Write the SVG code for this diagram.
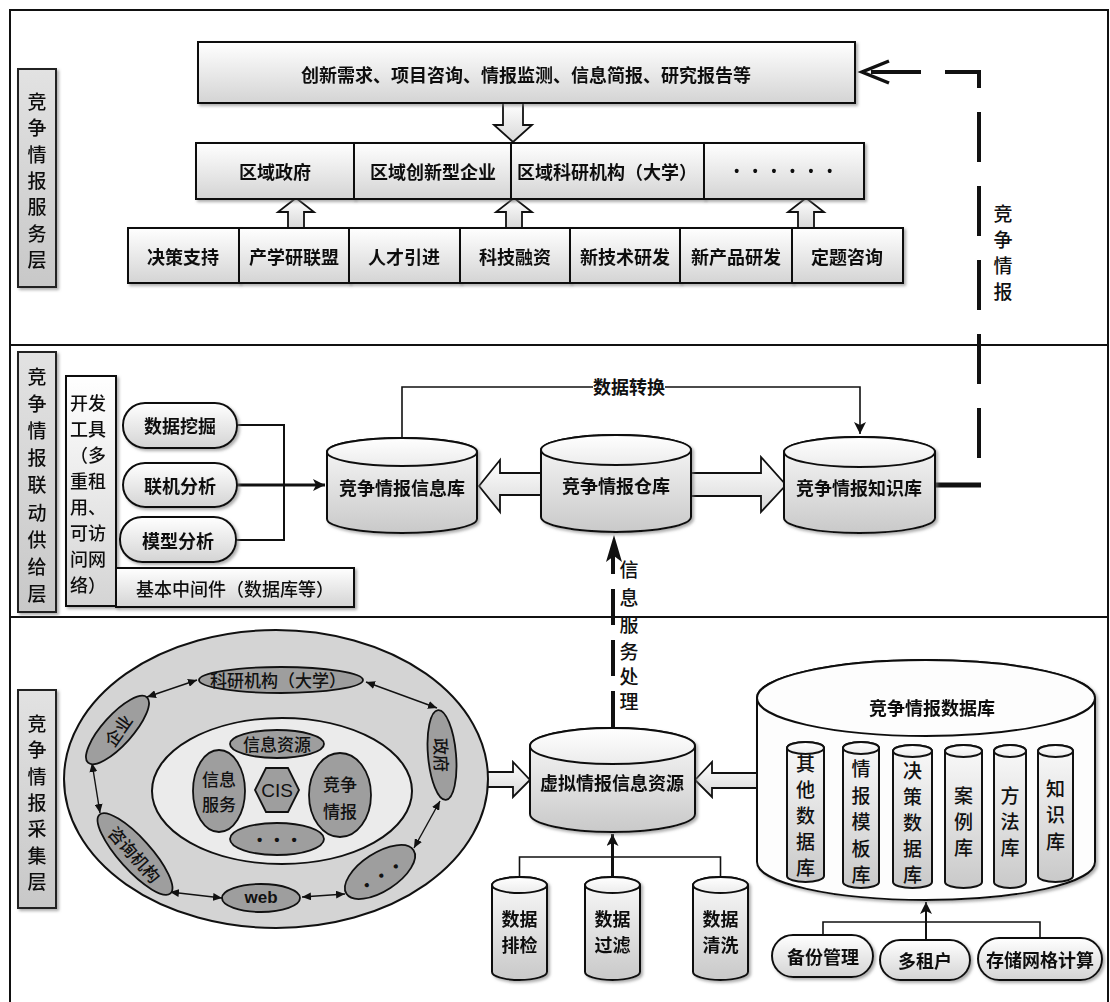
<svg xmlns="http://www.w3.org/2000/svg" width="1110" height="1002" viewBox="0 0 1110 1002">
<style>
.t{font-family:"Noto Sans CJK SC","Noto Sans",sans-serif;font-size:18px;font-weight:700;text-anchor:middle;dominant-baseline:central;fill:#111}
.tv{font-family:"Noto Sans CJK SC","Noto Sans",sans-serif;font-size:19px;font-weight:500;text-anchor:middle;dominant-baseline:central;fill:#111}
.ts{font-family:"Noto Sans CJK SC","Noto Sans",sans-serif;font-size:18px;font-weight:500;text-anchor:start;dominant-baseline:central;fill:#111}
.tr{font-family:"Noto Sans CJK SC","Noto Sans",sans-serif;font-size:17px;font-weight:500;text-anchor:middle;dominant-baseline:central;fill:#111}
.dots{font-family:"Liberation Sans",Arial,sans-serif;font-weight:700;text-anchor:middle;dominant-baseline:central;fill:#111}
.box{fill:url(#gBox);stroke:#111;stroke-width:2}
.lab{fill:url(#gLab);stroke:#222;stroke-width:2}
.cylb{fill:url(#gCyl);stroke:#111;stroke-width:2}
.cylt{fill:url(#gTop);stroke:#111;stroke-width:2}
.cylw{fill:#fdfdfd;stroke:#111;stroke-width:2}
.hol{fill:url(#gArr);stroke:#111;stroke-width:1.8}
.ln{fill:none;stroke:#111;stroke-width:1.6}
.ring{fill:#d4d4d4;stroke:#111;stroke-width:2}
.inner{fill:#ebebeb;stroke:#111;stroke-width:2}
.node{fill:#9e9e9e;stroke:#111;stroke-width:1.8}
.frame{fill:none;stroke:#111;stroke-width:2}
</style>
<defs>
<linearGradient id="gBox" x1="0" y1="0" x2="0" y2="1"><stop offset="0" stop-color="#ffffff"/><stop offset="1" stop-color="#d4d4d4"/></linearGradient>
<linearGradient id="gLab" x1="0" y1="0" x2="0" y2="1"><stop offset="0" stop-color="#e2e2e2"/><stop offset="1" stop-color="#c8c8c8"/></linearGradient>
<linearGradient id="gCyl" x1="0" y1="0" x2="0" y2="1"><stop offset="0" stop-color="#fafafa"/><stop offset="1" stop-color="#c9c9c9"/></linearGradient>
<linearGradient id="gTop" x1="0" y1="0" x2="0" y2="1"><stop offset="0" stop-color="#ffffff"/><stop offset="1" stop-color="#ececec"/></linearGradient>
<linearGradient id="gArr" x1="0" y1="0" x2="0" y2="1"><stop offset="0" stop-color="#ffffff"/><stop offset="1" stop-color="#d8d8d8"/></linearGradient>
<filter id="shadow" x="-10%" y="-10%" width="130%" height="140%"><feDropShadow dx="2" dy="2" stdDeviation="1.5" flood-color="#777" flood-opacity="0.6"/></filter>
<marker id="ah" markerUnits="userSpaceOnUse" markerWidth="14" markerHeight="12" refX="12" refY="6" orient="auto"><path d="M0,0 L12,6 L0,12 L3,6 z" fill="#111"/></marker>
<marker id="ahs" markerUnits="userSpaceOnUse" markerWidth="10" markerHeight="8" refX="9" refY="4" orient="auto-start-reverse"><path d="M0,0 L9,4 L0,8 z" fill="#111"/></marker>
</defs>
<rect x="0" y="0" width="1110" height="1002" fill="#ffffff"/>

<!-- frame and layers -->
<g id="frame">
<rect class="frame" x="10" y="10" width="1098" height="1004"/>
<line class="frame" x1="10" y1="345" x2="1108" y2="345"/>
<line class="frame" x1="10" y1="617" x2="1108" y2="617"/>
</g>

<!-- layer labels -->
<g id="label-service" filter="url(#shadow)">
<rect class="lab" x="18" y="69" width="38" height="218"/>
<text class="tv" font-size="20"><tspan x="37" y="100">竞</tspan><tspan x="37" y="126">争</tspan><tspan x="37" y="153">情</tspan><tspan x="37" y="179">报</tspan><tspan x="37" y="205">服</tspan><tspan x="37" y="232">务</tspan><tspan x="37" y="258">层</tspan></text>
</g>
<g id="label-supply" filter="url(#shadow)">
<rect class="lab" x="18" y="352" width="38" height="260"/>
<text class="tv" font-size="20"><tspan x="37" y="375">竞</tspan><tspan x="37" y="402">争</tspan><tspan x="37" y="429">情</tspan><tspan x="37" y="456">报</tspan><tspan x="37" y="483">联</tspan><tspan x="37" y="511">动</tspan><tspan x="37" y="538">供</tspan><tspan x="37" y="565">给</tspan><tspan x="37" y="592">层</tspan></text>
</g>
<g id="label-collect" filter="url(#shadow)">
<rect class="lab" x="18" y="690" width="38" height="218"/>
<text class="tv" font-size="20"><tspan x="37" y="722">竞</tspan><tspan x="37" y="748">争</tspan><tspan x="37" y="775">情</tspan><tspan x="37" y="801">报</tspan><tspan x="37" y="827">采</tspan><tspan x="37" y="854">集</tspan><tspan x="37" y="880">层</tspan></text>
</g>

<!-- connectors -->
<g id="connectors">
<!-- hollow block arrows -->
<polygon class="hol" points="503,103 523,103 523,125 532,125 513,142 494,125 503,125"/>
<polygon class="hol" points="296,198 314,212 304,212 304,228 288,228 288,212 278,212"/>
<polygon class="hol" points="514,198 532,212 522,212 522,228 506,228 506,212 496,212"/>
<polygon class="hol" points="806,198 824,212 814,212 814,228 798,228 798,212 788,212"/>
<polygon class="hol" points="479,486 500,460 500,473 550,473 550,495 500,495 500,512"/>
<polygon class="hol" points="684,473 761,473 761,457 786,485 761,512 761,496 684,496"/>
<polygon class="hol" points="480,772 513,772 513,762 530,780 513,797 513,787 480,787"/>
<polygon class="hol" points="695,780 712,762 712,773 764,773 764,788 712,788 712,797"/>
<!-- supply layer lines -->
<path class="ln" style="stroke-width:2" d="M237,425 H284 V540 H236"/>
<path class="ln" style="stroke-width:3" d="M237,485 H325" marker-end="url(#ah)"/>
<path class="ln" d="M402,438 V387 H860 V434" marker-end="url(#ah)"/>
<!-- feedback dashed -->
<path class="ln" style="stroke-width:5" d="M934,485 H981"/>
<path class="ln" style="stroke-width:4;stroke-dasharray:50 24" d="M979,458 V72 H864"/>
<polyline class="ln" style="stroke-width:3.5" points="889,61 862,72 889,83"/>
<!-- info service processing -->
<path class="ln" style="stroke-width:4;stroke-dasharray:36 15" d="M613,727 V552"/>
<polygon points="614,535 606,562 614,556 622,562" fill="#111"/>
<!-- bottom data cylinders -->
<path class="ln" d="M519.5,877 V857 H720.5 V877"/>
<path class="ln" style="stroke-width:3" d="M612.5,877 V834" marker-end="url(#ah)"/>
<!-- db bottom -->
<path class="ln" d="M823,935 V922 H1040 V938"/>
<path class="ln" style="stroke-width:2" d="M926,940 V902" marker-end="url(#ah)"/>
</g>

<!-- service layer -->
<g id="n-top" filter="url(#shadow)">
<rect class="box" x="198" y="42" width="657" height="61"/>
<text class="t" x="526" y="74">创新需求、项目咨询、情报监测、信息简报、研究报告等</text>
</g>
<g id="n-gov" filter="url(#shadow)"><rect class="box" x="196" y="143" width="158" height="56"/><text class="t" x="275" y="171">区域政府</text></g>
<g id="n-ent" filter="url(#shadow)"><rect class="box" x="354" y="143" width="157" height="56"/><text class="t" x="433" y="171">区域创新型企业</text></g>
<g id="n-uni" filter="url(#shadow)"><rect class="box" x="511" y="143" width="193" height="56"/><text class="t" x="607" y="171">区域科研机构（大学）</text></g>
<g id="n-more" filter="url(#shadow)"><rect class="box" x="704" y="143" width="160" height="56"/><text class="dots" x="790" y="171" style="font-size:14px;letter-spacing:13.7px">••••••</text></g>

<g id="n-r3a" filter="url(#shadow)"><rect class="box" x="128" y="228" width="111" height="55"/><text class="t" x="183" y="256">决策支持</text></g>
<g id="n-r3b" filter="url(#shadow)"><rect class="box" x="239" y="228" width="110" height="55"/><text class="t" x="294" y="256">产学研联盟</text></g>
<g id="n-r3c" filter="url(#shadow)"><rect class="box" x="349" y="228" width="111" height="55"/><text class="t" x="404" y="256">人才引进</text></g>
<g id="n-r3d" filter="url(#shadow)"><rect class="box" x="460" y="228" width="110" height="55"/><text class="t" x="515" y="256">科技融资</text></g>
<g id="n-r3e" filter="url(#shadow)"><rect class="box" x="570" y="228" width="110" height="55"/><text class="t" x="625" y="256">新技术研发</text></g>
<g id="n-r3f" filter="url(#shadow)"><rect class="box" x="680" y="228" width="112" height="55"/><text class="t" x="736" y="256">新产品研发</text></g>
<g id="n-r3g" filter="url(#shadow)"><rect class="box" x="792" y="228" width="111" height="55"/><text class="t" x="847" y="256">定题咨询</text></g>

<g id="n-feedback-label"><text class="tv" font-size="19"><tspan x="1003" y="212">竞</tspan><tspan x="1003" y="238">争</tspan><tspan x="1003" y="264">情</tspan><tspan x="1003" y="290">报</tspan></text></g>

<!-- supply layer -->
<g id="n-devtools" filter="url(#shadow)">
<rect class="box" x="66" y="376" width="50" height="230"/>
<text class="ts"><tspan x="70" y="402">开发</tspan><tspan x="70" y="428">工具</tspan><tspan x="70" y="454">（多</tspan><tspan x="70" y="480">重租</tspan><tspan x="70" y="506">用、</tspan><tspan x="70" y="532">可访</tspan><tspan x="70" y="558">问网</tspan><tspan x="70" y="584">络）</tspan></text>
</g>
<g id="n-middleware" filter="url(#shadow)">
<rect class="box" x="116" y="568" width="238" height="39"/>
<text class="ts" x="136" y="588">基本中间件（数据库等）</text>
</g>
<g id="n-mining" filter="url(#shadow)"><rect class="box" x="123" y="403" width="114" height="45" rx="22"/><text class="t" x="180" y="425">数据挖掘</text></g>
<g id="n-olap" filter="url(#shadow)"><rect class="box" x="123" y="463" width="114" height="44" rx="22"/><text class="t" x="180" y="485">联机分析</text></g>
<g id="n-model" filter="url(#shadow)"><rect class="box" x="120" y="517" width="116" height="45" rx="22"/><text class="t" x="178" y="540">模型分析</text></g>

<g id="n-infolib" filter="url(#shadow)">
<path class="cylb" d="M327,452 V519 A75,14 0 0 0 477,519 V452 A75,14 0 0 0 327,452 Z"/>
<ellipse class="cylt" cx="402" cy="452" rx="75" ry="14"/>
<text class="t" x="402" y="487">竞争情报信息库</text>
</g>
<g id="n-warehouse" filter="url(#shadow)">
<path class="cylb" d="M541,450 V517 A75,15 0 0 0 691,517 V450 A75,15 0 0 0 541,450 Z"/>
<ellipse class="cylt" cx="616" cy="450" rx="75" ry="15"/>
<text class="t" x="616" y="485">竞争情报仓库</text>
</g>
<g id="n-knowledge" filter="url(#shadow)">
<path class="cylb" d="M784,452 V518 A75.5,15 0 0 0 935,518 V452 A75.5,15 0 0 0 784,452 Z"/>
<ellipse class="cylt" cx="859.5" cy="452" rx="75.5" ry="15"/>
<text class="t" x="859" y="487">竞争情报知识库</text>
</g>
<g id="n-convert-label">
<rect x="593" y="377" width="72" height="20" fill="#ffffff"/>
<text class="t" x="629" y="386">数据转换</text>
</g>
<g id="n-process-label"><text class="tv" font-size="18"><tspan x="629" y="568">信</tspan><tspan x="629" y="596">息</tspan><tspan x="629" y="623">服</tspan><tspan x="629" y="650">务</tspan><tspan x="629" y="675">处</tspan><tspan x="629" y="700">理</tspan></text></g>

<!-- collection layer -->
<g id="n-cis-ring">
<ellipse class="ring" cx="276" cy="779" rx="212" ry="149"/>
<ellipse class="inner" cx="282" cy="791" rx="130" ry="73"/>
</g>
<g id="n-ring-arrows">
<line class="ln" style="stroke-width:1.4" x1="147" y1="697" x2="197" y2="680" marker-start="url(#ahs)" marker-end="url(#ahs)"/>
<line class="ln" style="stroke-width:1.4" x1="366" y1="682" x2="437" y2="708" marker-start="url(#ahs)" marker-end="url(#ahs)"/>
<line class="ln" style="stroke-width:1.4" x1="440" y1="801" x2="414" y2="848" marker-start="url(#ahs)" marker-end="url(#ahs)"/>
<line class="ln" style="stroke-width:1.4" x1="345" y1="894" x2="302" y2="897" marker-start="url(#ahs)" marker-end="url(#ahs)"/>
<line class="ln" style="stroke-width:1.4" x1="222" y1="898" x2="170" y2="892" marker-start="url(#ahs)" marker-end="url(#ahs)"/>
<line class="ln" style="stroke-width:1.4" x1="100" y1="813" x2="92" y2="763" marker-start="url(#ahs)" marker-end="url(#ahs)"/>
</g>
<g id="n-research"><ellipse class="node" cx="281" cy="680" rx="82" ry="13"/><text class="tr" x="278" y="679">科研机构（大学）</text></g>
<g id="n-enterprise"><ellipse class="node" cx="0" cy="0" rx="44" ry="15" transform="translate(117.5,730) rotate(-48)"/><text class="tr" transform="translate(117.5,730) rotate(-55)">企业</text></g>
<g id="n-government"><ellipse class="node" cx="0" cy="0" rx="45" ry="14" transform="translate(442,755) rotate(85)"/><text class="tr" transform="translate(442,755) rotate(88)">政府</text></g>
<g id="n-consult"><ellipse class="node" cx="0" cy="0" rx="53" ry="16" transform="translate(135,854) rotate(48)"/><text class="tr" transform="translate(135,854) rotate(48)">咨询机构</text></g>
<g id="n-web"><ellipse class="node" cx="261" cy="898" rx="39" ry="14"/><text class="tr" x="261" y="897" style="font-family:'Liberation Sans',Arial,sans-serif;font-weight:700;font-size:17px">web</text></g>
<g id="n-etc-outer"><ellipse class="node" cx="0" cy="0" rx="40" ry="19" transform="translate(380,872) rotate(-33)"/><text class="dots" style="font-size:15px;letter-spacing:12px" transform="translate(386,872) rotate(-33)">•••</text></g>
<g id="n-infores"><ellipse class="node" cx="277" cy="744" rx="47" ry="14"/><text class="tr" x="277" y="743">信息资源</text></g>
<g id="n-infoserv"><ellipse class="node" cx="219" cy="791" rx="26" ry="41"/><text class="tr" font-size="18"><tspan x="219" y="778">信息</tspan><tspan x="219" y="803">服务</tspan></text></g>
<g id="n-cis"><polygon class="node" points="255,790 266,768 288,768 299,790 288,812 266,812"/><text class="tr" x="277" y="790" style="font-family:'Liberation Sans',Arial,sans-serif;font-size:19px">CIS</text></g>
<g id="n-ci"><ellipse class="node" cx="340" cy="795" rx="31" ry="42"/><text class="tr" font-size="18"><tspan x="340" y="783">竞争</tspan><tspan x="340" y="810">情报</tspan></text></g>
<g id="n-etc-inner"><ellipse class="node" cx="277" cy="839" rx="47" ry="16"/><text class="dots" x="283" y="839" style="font-size:15px;letter-spacing:12px">•••</text></g>

<g id="n-virtual" filter="url(#shadow)">
<path class="cylb" d="M530,746 V814 A82.5,18 0 0 0 695,814 V746 A82.5,18 0 0 0 530,746 Z"/>
<ellipse class="cylt" cx="612.5" cy="746" rx="82.5" ry="18"/>
<text class="t" x="612" y="782">虚拟情报信息资源</text>
</g>
<g id="n-check" filter="url(#shadow)">
<path class="cylb" d="M492,885 V972 A27.5,8 0 0 0 547,972 V885 A27.5,8 0 0 0 492,885 Z"/>
<ellipse class="cylt" cx="519.5" cy="885" rx="27.5" ry="8"/>
<text class="t" font-size="19"><tspan x="519.5" y="918">数据</tspan><tspan x="519.5" y="944">排检</tspan></text>
</g>
<g id="n-filter" filter="url(#shadow)">
<path class="cylb" d="M585,885 V972 A27.5,8 0 0 0 640,972 V885 A27.5,8 0 0 0 585,885 Z"/>
<ellipse class="cylt" cx="612.5" cy="885" rx="27.5" ry="8"/>
<text class="t" font-size="19"><tspan x="612.5" y="918">数据</tspan><tspan x="612.5" y="944">过滤</tspan></text>
</g>
<g id="n-clean" filter="url(#shadow)">
<path class="cylb" d="M693,885 V972 A27.5,8 0 0 0 748,972 V885 A27.5,8 0 0 0 693,885 Z"/>
<ellipse class="cylt" cx="720.5" cy="885" rx="27.5" ry="8"/>
<text class="t" font-size="19"><tspan x="720.5" y="918">数据</tspan><tspan x="720.5" y="944">清洗</tspan></text>
</g>

<g id="n-database" filter="url(#shadow)">
<path class="cylw" d="M757,698 V862 A169,38 0 0 0 1095,862 V698 A169,38 0 0 0 757,698 Z"/>
<ellipse class="cylw" cx="926" cy="698" rx="169" ry="38"/>
<text class="t" x="932" y="707">竞争情报数据库</text>
</g>
<g id="n-db-other">
<path class="cylb" d="M787,748 V876 A18.5,6 0 0 0 824,876 V748 A18.5,6 0 0 0 787,748 Z"/>
<ellipse class="cylt" cx="805.5" cy="748" rx="18.5" ry="6"/>
<text class="tv"><tspan x="805.5" y="762">其</tspan><tspan x="805.5" y="788">他</tspan><tspan x="805.5" y="814">数</tspan><tspan x="805.5" y="840">据</tspan><tspan x="805.5" y="866">库</tspan></text>
</g>
<g id="n-db-template">
<path class="cylb" d="M843,748 V882 A18,6 0 0 0 879,882 V748 A18,6 0 0 0 843,748 Z"/>
<ellipse class="cylt" cx="861" cy="748" rx="18" ry="6"/>
<text class="tv"><tspan x="861" y="767">情</tspan><tspan x="861" y="794">报</tspan><tspan x="861" y="820">模</tspan><tspan x="861" y="847">板</tspan><tspan x="861" y="873">库</tspan></text>
</g>
<g id="n-db-decision">
<path class="cylb" d="M893,751 V882 A19.5,6 0 0 0 932,882 V751 A19.5,6 0 0 0 893,751 Z"/>
<ellipse class="cylt" cx="912.5" cy="751" rx="19.5" ry="6"/>
<text class="tv"><tspan x="912.5" y="769">决</tspan><tspan x="912.5" y="795">策</tspan><tspan x="912.5" y="821">数</tspan><tspan x="912.5" y="847">据</tspan><tspan x="912.5" y="873">库</tspan></text>
</g>
<g id="n-db-case">
<path class="cylb" d="M945,751 V882 A18.5,6 0 0 0 982,882 V751 A18.5,6 0 0 0 945,751 Z"/>
<ellipse class="cylt" cx="963.5" cy="751" rx="18.5" ry="6"/>
<text class="tv"><tspan x="963.5" y="794">案</tspan><tspan x="963.5" y="820">例</tspan><tspan x="963.5" y="846">库</tspan></text>
</g>
<g id="n-db-method">
<path class="cylb" d="M994,751 V882 A16,6 0 0 0 1026,882 V751 A16,6 0 0 0 994,751 Z"/>
<ellipse class="cylt" cx="1010" cy="751" rx="16" ry="6"/>
<text class="tv"><tspan x="1010" y="794">方</tspan><tspan x="1010" y="820">法</tspan><tspan x="1010" y="846">库</tspan></text>
</g>
<g id="n-db-knowledge">
<path class="cylb" d="M1038,751 V876 A17.5,6 0 0 0 1073,876 V751 A17.5,6 0 0 0 1038,751 Z"/>
<ellipse class="cylt" cx="1055.5" cy="751" rx="17.5" ry="6"/>
<text class="tv"><tspan x="1055.5" y="787">知</tspan><tspan x="1055.5" y="813">识</tspan><tspan x="1055.5" y="840">库</tspan></text>
</g>

<g id="n-backup" filter="url(#shadow)"><rect class="box" x="772" y="935" width="101" height="42" rx="21"/><text class="t" x="823" y="956">备份管理</text></g>
<g id="n-tenant" filter="url(#shadow)"><rect class="box" x="880" y="940" width="90" height="40" rx="20"/><text class="t" x="925" y="960">多租户</text></g>
<g id="n-grid" filter="url(#shadow)"><rect class="box" x="978" y="938" width="124" height="42" rx="21"/><text class="t" x="1040" y="959">存储网格计算</text></g>
</svg>
